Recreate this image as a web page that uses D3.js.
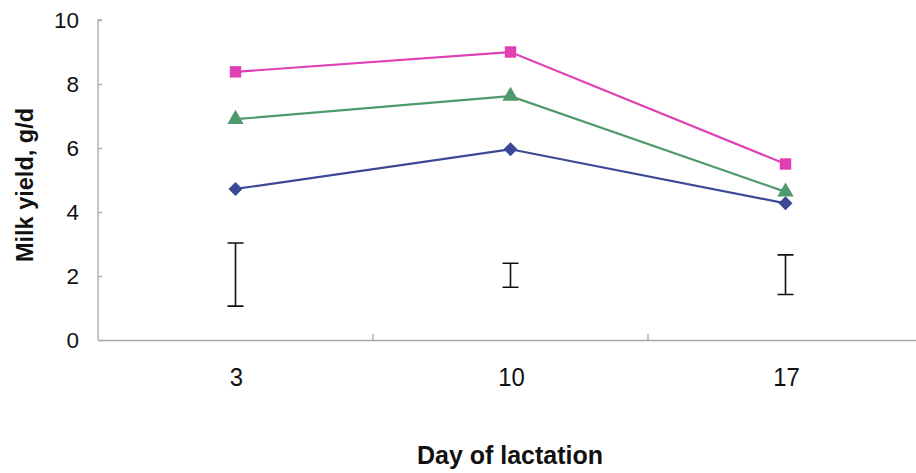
<!DOCTYPE html>
<html>
<head>
<meta charset="utf-8">
<script src="https://cdn.jsdelivr.net/npm/d3@7/dist/d3.min.js"></script>
<style>
  html, body { margin: 0; padding: 0; background: #fff; }
  svg { display: block; }
  text { font-family: "Liberation Sans", Arial, sans-serif; fill: #111; }
</style>
</head>
<body>
<svg id="chart" width="916" height="473"></svg>
<script>
// Day of lactation categories
const days = ["3", "10", "17"];
// Milk yield (g/d) by treatment group
const seriesPink  = [8.38, 9.0, 5.5];
const seriesGreen = [6.9, 7.62, 4.63];
const seriesBlue  = [4.72, 5.96, 4.27];
// Error bars per day (low, high)
const errLow  = [1.06, 1.65, 1.42];
const errHigh = [3.03, 2.4, 2.66];
const yTicks = [0, 2, 4, 6, 8, 10];

const svg = d3.select("#chart");
const plotLeft = 98, plotTop = 20, plotBottom = 340, plotRight = 923;

const x = d3.scaleBand().domain(days).range([plotLeft, plotRight]);
const y = d3.scaleLinear().domain([0, 10]).range([plotBottom, plotTop]);
const cx = d => x(d) + x.bandwidth() / 2;

// Axes
const axisColor = "#a8a8a8";
const yAxis = svg.append("g").attr("transform", `translate(${plotLeft},0)`)
  .call(d3.axisRight(y).tickValues(yTicks).tickSize(4).tickFormat(""));
yAxis.select(".domain").attr("stroke", axisColor).attr("stroke-width", 1.3)
  .attr("d", `M4,${plotTop}H0V${plotBottom}`);
yAxis.selectAll(".tick line").attr("stroke", axisColor).attr("stroke-width", 1.3);

svg.append("g").selectAll("text").data(yTicks).join("text")
  .attr("x", 79).attr("y", d => y(d)).attr("dy", "0.36em")
  .attr("text-anchor", "end").attr("font-size", 22.5).text(d => d);

const xAxis = svg.append("g").attr("transform", `translate(0,${plotBottom})`)
  .call(d3.axisTop(x).tickSize(0).tickFormat(""));
xAxis.select(".domain").attr("stroke", axisColor).attr("stroke-width", 1.3);
xAxis.selectAll(".tick").remove();
// Category boundary ticks
svg.append("g").selectAll("line").data(days.slice(1)).join("line")
  .attr("x1", d => x(d)).attr("x2", d => x(d))
  .attr("y1", plotBottom).attr("y2", plotBottom - 6)
  .attr("stroke", axisColor).attr("stroke-width", 1.3);

svg.append("g").selectAll("text").data(days).join("text")
  .attr("transform", d => `translate(${cx(d) + 1},386) scale(0.92,1)`)
  .attr("text-anchor", "middle").attr("font-size", 26)
  .text(d => d);

// Axis titles
svg.append("text").attr("x", 510).attr("y", 464)
  .attr("text-anchor", "middle").attr("font-size", 25).attr("font-weight", "bold")
  .text("Day of lactation");
svg.append("text").attr("transform", "translate(25,185) rotate(-90)")
  .attr("dy", "0.35em").attr("text-anchor", "middle")
  .attr("font-size", 23.5).attr("font-weight", "bold")
  .text("Milk yield, g/d");

// Error bars
const eb = svg.append("g").attr("stroke", "#111").attr("stroke-width", 1.6).attr("fill", "none");
days.forEach((d, i) => {
  const xc = cx(d), w = 8;
  eb.append("path").attr("d",
    `M${xc - w},${y(errHigh[i])}H${xc + w}M${xc},${y(errHigh[i])}V${y(errLow[i])}M${xc - w},${y(errLow[i])}H${xc + w}`);
});

// Lines and markers (diamond = square turned 45°)
const series = [
  { values: seriesBlue,  color: "#3b4896", symbol: d3.symbolSquare,   size: 98,  rotate: 45 },
  { values: seriesGreen, color: "#4f9a6c", symbol: d3.symbolTriangle, size: 115, rotate: 0 },
  { values: seriesPink,  color: "#e040b4", symbol: d3.symbolSquare,   size: 130, rotate: 0 }
];
const line = d3.line().x((v, i) => cx(days[i])).y(v => y(v));
series.forEach(s => {
  svg.append("path").datum(s.values).attr("d", line)
    .attr("fill", "none").attr("stroke", s.color).attr("stroke-width", 2.2);
  svg.append("g").selectAll("path").data(s.values).join("path")
    .attr("transform", (v, i) => `translate(${cx(days[i])},${y(v)}) rotate(${s.rotate})`)
    .attr("d", d3.symbol().type(s.symbol).size(s.size))
    .attr("fill", s.color);
});
</script>
</body>
</html>
